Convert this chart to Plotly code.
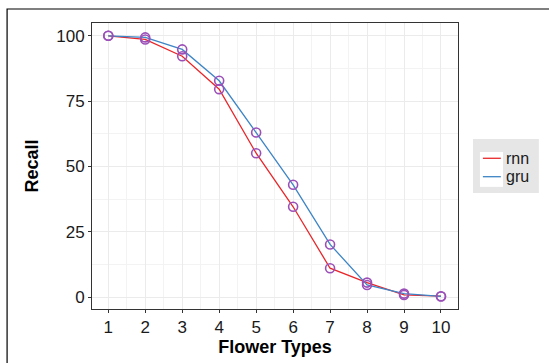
import plotly.graph_objects as go

flower_types = [1, 2, 3, 4, 5, 6, 7, 8, 9, 10]
rnn_recall = [100, 98.6, 92.2, 79.6, 55.1, 34.6, 11.1, 5.6, 0.9, 0.4]
gru_recall = [100, 99.4, 94.8, 82.8, 63.0, 43.0, 20.2, 4.7, 1.4, 0.3]
series_names = ["rnn", "gru"]
line_colors = ["#E8262A", "#3D85C6"]
marker_color = "#9B50B8"
y_ticks = [0, 25, 50, 75, 100]

fig = go.Figure()
for name, vals, col in zip(series_names, [rnn_recall, gru_recall], line_colors):
    fig.add_trace(go.Scatter(
        x=flower_types, y=vals, mode="lines", name=name, showlegend=False,
        line=dict(color=col, width=1.3),
    ))
for vals in [rnn_recall, gru_recall]:
    fig.add_trace(go.Scatter(
        x=flower_types, y=vals, mode="markers", showlegend=False,
        marker=dict(symbol="circle-open", size=9, color=marker_color,
                    line=dict(width=1.6, color=marker_color)),
    ))

# manual legend (matches the reference's compact key style)
legend_shapes = [
    dict(type="rect", xref="paper", yref="paper", x0=1.041, x1=1.221, y0=0.406, y1=0.594,
         line=dict(width=0), fillcolor="#e6e6e6", layer="below"),
    dict(type="rect", xref="paper", yref="paper", x0=1.060, x1=1.123, y0=0.427, y1=0.549,
         line=dict(width=0), fillcolor="#ffffff", layer="below"),
]
legend_ann = []
for i, (name, col) in enumerate(zip(series_names, line_colors)):
    yy = 0.527 - i * 0.0644
    legend_shapes.append(dict(type="line", xref="paper", yref="paper", x0=1.068, x1=1.117,
                              y0=yy, y1=yy, line=dict(color=col, width=1.3)))
    legend_ann.append(dict(xref="paper", yref="paper", x=1.126, y=yy, xanchor="left",
                           yanchor="middle", text=name, showarrow=False,
                           font=dict(size=16, color="#1a1a1a")))

font_family = "Liberation Sans, Arial, sans-serif"
fig.update_layout(
    width=549, height=363,
    margin=dict(l=92, r=91, t=23, b=54, autoexpand=False),
    paper_bgcolor="white", plot_bgcolor="white",
    font=dict(family=font_family, color="#1a1a1a"),
    showlegend=False,
    xaxis=dict(
        range=[0.56, 10.46], tickvals=flower_types,
        tickfont=dict(size=17, color="#1a1a1a"),
        showgrid=True, gridcolor="#ebebeb", gridwidth=1,
        minor=dict(dtick=0.5, tick0=0.5, showgrid=True, gridcolor="#f3f3f3", gridwidth=0.6),
        showline=True, mirror=True, linecolor="#333333", linewidth=1,
        ticks="outside", ticklen=3, tickcolor="#333333", zeroline=False,
        title=dict(text="<b>Flower Types</b>", font=dict(size=18, color="#000"), standoff=1),
    ),
    yaxis=dict(
        range=[-4.5, 104.9], tickvals=y_ticks,
        tickfont=dict(size=17, color="#1a1a1a"),
        showgrid=True, gridcolor="#ebebeb", gridwidth=1,
        minor=dict(dtick=12.5, tick0=12.5, showgrid=True, gridcolor="#f3f3f3", gridwidth=0.6),
        showline=True, mirror=True, linecolor="#333333", linewidth=1,
        ticks="outside", ticklen=3, tickcolor="#333333", zeroline=False,
        title=dict(text="<b>Recall</b>", font=dict(size=18, color="#000"), standoff=12),
    ),
    shapes=[
        dict(type="rect", xref="paper", yref="paper", x0=-0.232, x1=1.5, y0=-0.5, y1=1.049,
             line=dict(color="#000", width=1.2), fillcolor="rgba(0,0,0,0)", layer="below"),
    ] + legend_shapes,
    annotations=legend_ann,
)

fig.write_html("out.html", config={"displayModeBar": False},
               post_script="document.body.style.margin='0';")
